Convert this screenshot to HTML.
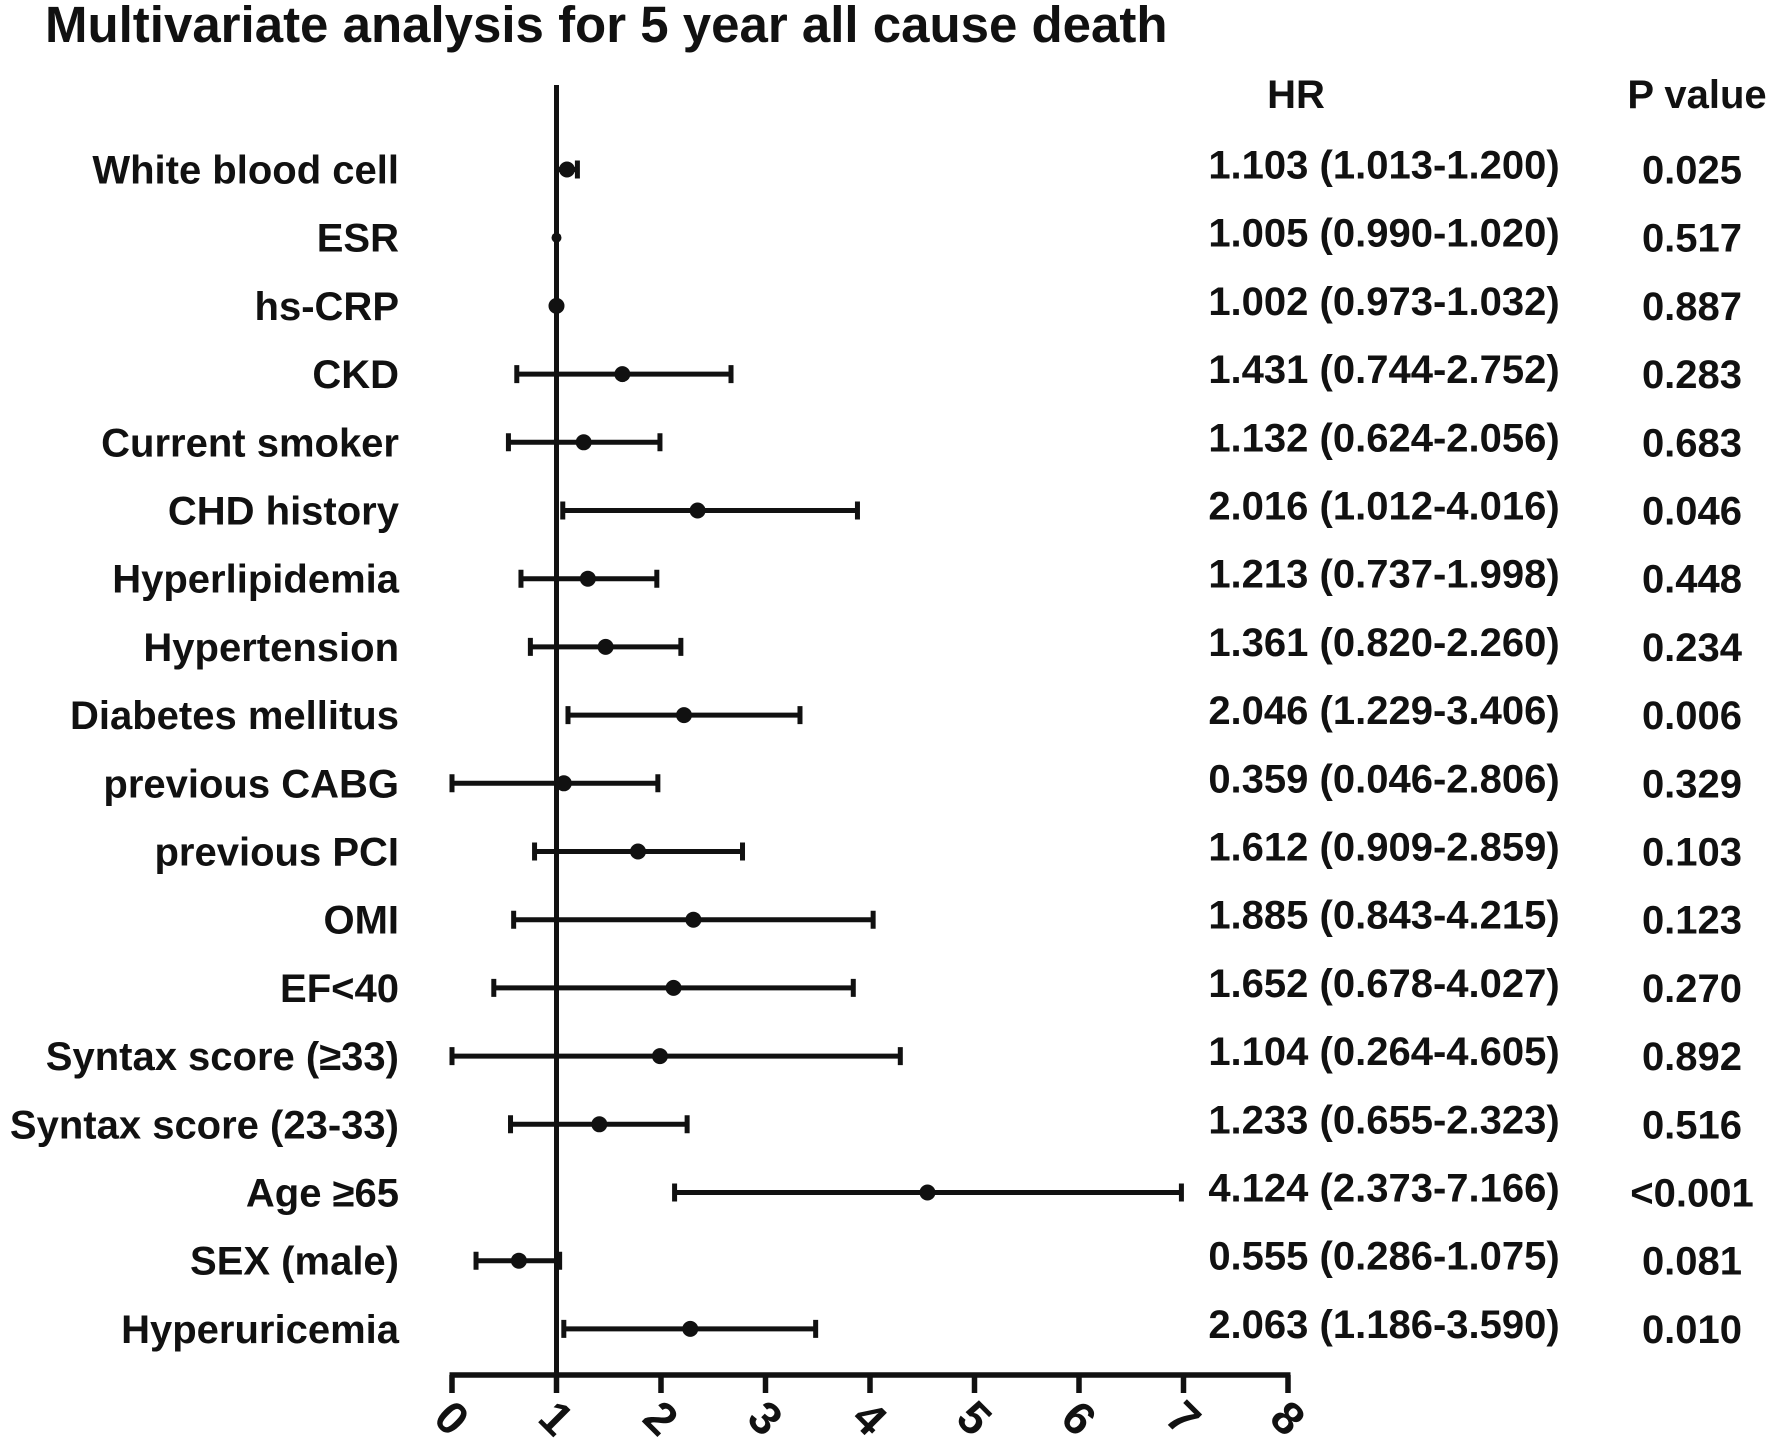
<!DOCTYPE html>
<html><head><meta charset="utf-8"><style>
html,body{margin:0;padding:0;background:#fff}
svg{display:block}
text{font-family:"Liberation Sans",Arial,sans-serif;font-weight:bold;fill:#111}
</style></head><body>
<svg id="chart" width="1772" height="1446" viewBox="0 0 1772 1446" xmlns="http://www.w3.org/2000/svg">
<text x="45" y="42" font-size="51">Multivariate analysis for 5 year all cause death</text>
<text x="1296" y="108" font-size="40" text-anchor="middle">HR</text>
<text x="1697" y="108" font-size="40" text-anchor="middle">P value</text>
<g id="marks"></g>
</svg>
<script>
const labels=["White blood cell","ESR","hs-CRP","CKD","Current smoker","CHD history","Hyperlipidemia","Hypertension","Diabetes mellitus","previous CABG","previous PCI","OMI","EF<40","Syntax score (≥33)","Syntax score (23-33)","Age ≥65","SEX (male)","Hyperuricemia"];
const estimates=[1.10,1.0,1.0,1.63,1.26,2.35,1.30,1.47,2.22,1.07,1.78,2.31,2.12,1.99,1.41,4.55,0.64,2.28];
const lower=[1.0,1.0,1.0,0.62,0.54,1.06,0.66,0.75,1.11,0.0,0.79,0.59,0.40,0.0,0.56,2.13,0.23,1.07];
const upper=[1.2,1.0,1.0,2.67,1.99,3.88,1.96,2.19,3.33,1.97,2.78,4.03,3.84,4.29,2.25,6.98,1.03,3.48];
const hrText=["1.103 (1.013-1.200)","1.005 (0.990-1.020)","1.002 (0.973-1.032)","1.431 (0.744-2.752)","1.132 (0.624-2.056)","2.016 (1.012-4.016)","1.213 (0.737-1.998)","1.361 (0.820-2.260)","2.046 (1.229-3.406)","0.359 (0.046-2.806)","1.612 (0.909-2.859)","1.885 (0.843-4.215)","1.652 (0.678-4.027)","1.104 (0.264-4.605)","1.233 (0.655-2.323)","4.124 (2.373-7.166)","0.555 (0.286-1.075)","2.063 (1.186-3.590)"];
const pText=["0.025","0.517","0.887","0.283","0.683","0.046","0.448","0.234","0.006","0.329","0.103","0.123","0.270","0.892","0.516","<0.001","0.081","0.010"];
const ticks=[0,1,2,3,4,5,6,7,8];

const NS="http://www.w3.org/2000/svg";
const g=document.getElementById('marks');
const x0=452,x8=1288,axisY=1375;
function xs(v){return x0+(x8-x0)*v/8;}
function ys(i){return 169.5+i*68.2;}
function mk(t,a){const e=document.createElementNS(NS,t);for(const k in a)e.setAttribute(k,a[k]);g.appendChild(e);return e;}

let ax=mk('line',{x1:x0-2.5,y1:axisY,x2:x8+2.5,y2:axisY,stroke:'#111','stroke-width':5.5});


let ref=mk('line',{x1:xs(1),y1:85,x2:xs(1),y2:axisY,stroke:'#111','stroke-width':5});


ticks.forEach(t=>{
  const tk=mk('line',{x1:xs(t),y1:axisY,x2:xs(t),y2:axisY+18,stroke:'#111','stroke-width':5.5});
  
  
  const tl=mk('text',{x:xs(t),y:1434,'font-size':46,'text-anchor':'middle',transform:`rotate(45 ${xs(t)} 1418)`});
  tl.textContent=t;
  
  
});

labels.forEach((l,i)=>{
  const y=ys(i);
  const lt=mk('text',{x:399,y:y+14,'font-size':40,'text-anchor':'end'});
  lt.textContent=l;
  
  
  const ht=mk('text',{x:1384,y:y+9,'font-size':40,'text-anchor':'middle'});
  ht.textContent=hrText[i];
  
  
  const pt=mk('text',{x:1692,y:y+14,'font-size':40,'text-anchor':'middle'});
  pt.textContent=pText[i];
  
  
  const a=xs(lower[i]),b=xs(upper[i]);
  if(b-a>1){
    const ci=mk('path',{d:`M${a} ${y}H${b}M${a} ${y-9}V${y+9}M${b} ${y-9}V${y+9}`,stroke:'#111','stroke-width':5,fill:'none'});
    
    
  }
  const d=mk('circle',{cx:xs(estimates[i]),cy:y,r:i==1?5:8,fill:'#111'});
  
  
});
</script>
</body></html>
